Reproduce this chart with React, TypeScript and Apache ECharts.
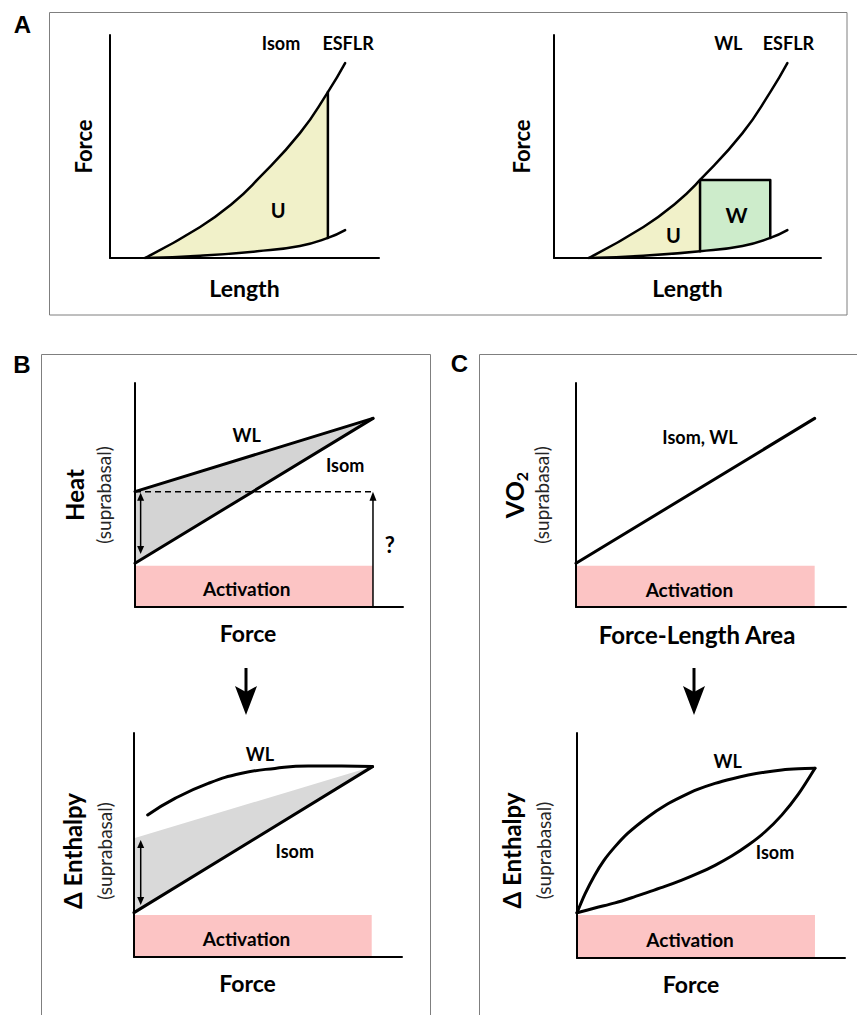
import React, { useEffect, useRef } from "react";
import * as echarts from "echarts";

const FONT = 'Lato, "Open Sans", "Noto Sans", sans-serif';

// ---------- Panel A : force-length relations (normalised units 0-100) ----------
const esflrLength = [13, 33.5, 45.7, 54.7, 70.6, 81, 87.4];
const esflrForce = [0, 13.9, 24.7, 35, 56, 74.4, 87.4];
const passiveLength = [13, 33.5, 54.7, 70.6, 81, 87.4];
const passiveForce = [0, 1, 3, 5.4, 9, 12.5];
const isomLength = 81; // isometric contraction length (A left)
const wlShortenStart = 81; // work-loop: start of shortening (A right)
const wlShortenEnd = 54.7; // work-loop: end of shortening
const wlAfterload = 35; // work-loop afterload force

// ---------- Panel B top : heat vs force ----------
const heatActivation = 18.4;
const heatForceMax = 88.8;
const heatIsom = [19.5, 84.2]; // heat at force 0 and at max force
const heatWL = [51.5, 84.2];

// ---------- Panel B bottom : enthalpy vs force ----------
const enthActivation = 18.75;
const enthForceMax = 89;
const enthIsom = [19.8, 85];
const enthUpper = [53, 85];
const enthWLForce = [5.1, 15.3, 27.7, 40.2, 52.6, 65, 77.5, 89];
const enthWLValue = [63.4, 70.8, 77.5, 82, 84.2, 85.3, 85.3, 85];

// ---------- Panel C top : VO2 vs FLA ----------
const vo2Activation = 18.4;
const vo2FlaMax = 88.4;
const vo2Line = [19.5, 84.2];

// ---------- Panel C bottom : enthalpy vs force ----------
const cActivation = 19.1;
const cForceMax = 88.8;
const cWLForce = [0, 3, 6.5, 10, 14.2, 19, 26.6, 33, 39.1, 45, 51.5, 58, 63.9, 70, 76.4, 82.6, 88.8];
const cWLValue = [20.1, 28.5, 36.6, 43.3, 49.5, 55.5, 62.8, 67.9, 71.7, 74.9, 77.6, 79.7, 81.3, 82.6, 83.6, 84.1, 84.3];
const cIsomForce = [0, 7, 14.2, 20.4, 26.6, 32.8, 39.1, 45.3, 51.5, 57.7, 63.9, 70.1, 76.4, 82.6, 88.8];
const cIsomValue = [20.1, 22.3, 24.5, 26.8, 29.3, 31.8, 34.6, 37.7, 41.2, 45.3, 50.2, 56, 63.5, 72.8, 84.3];

const zip = (xs: number[], ys: number[]) => xs.map((x, i) => [x, ys[i]]);

const YELLOW = "#f1f1c9";
const GREEN = "#cdeccb";
const PINK = "#fcc4c4";

function polygon(gi: number, pts: number[][], fill: string, z = 1) {
  return {
    type: "custom",
    xAxisIndex: gi,
    yAxisIndex: gi,
    silent: true,
    z,
    data: [[0, 0]],
    renderItem: (_p: any, api: any) => ({
      type: "polygon",
      shape: { points: pts.map((p) => api.coord(p)) },
      style: { fill, stroke: "none" },
    }),
  };
}

function curve(gi: number, pts: number[][], width = 2.5, smooth: any = true, extra: any = {}) {
  return {
    type: "line",
    xAxisIndex: gi,
    yAxisIndex: gi,
    data: pts,
    smooth,
    symbol: "none",
    silent: true,
    z: 3,
    lineStyle: { color: "#000", width, cap: "round", join: "round" },
    ...extra,
  };
}

function arrow(gi: number, from: number[], to: number[], both: boolean, headLen = 9, headW = 7, lw = 1.5) {
  return {
    type: "custom",
    xAxisIndex: gi,
    yAxisIndex: gi,
    silent: true,
    z: 5,
    data: [[0, 0]],
    renderItem: (_p: any, api: any) => {
      const a = api.coord(from);
      const b = api.coord(to);
      const dx = b[0] - a[0];
      const dy = b[1] - a[1];
      const L = Math.hypot(dx, dy);
      const ux = dx / L;
      const uy = dy / L;
      const nx = -uy;
      const ny = ux;
      const head = (t: number[], dx2: number, dy2: number) => ({
        type: "polygon",
        shape: {
          points: [
            t,
            [t[0] - dx2 * headLen + (nx * headW) / 2, t[1] - dy2 * headLen + (ny * headW) / 2],
            [t[0] - dx2 * headLen - (nx * headW) / 2, t[1] - dy2 * headLen - (ny * headW) / 2],
          ],
        },
        style: { fill: "#000" },
      });
      const s = both ? headLen / 2 : 0;
      const children: any[] = [
        {
          type: "line",
          shape: {
            x1: a[0] + ux * s,
            y1: a[1] + uy * s,
            x2: b[0] - (ux * headLen) / 2,
            y2: b[1] - (uy * headLen) / 2,
          },
          style: { stroke: "#000", lineWidth: lw },
        },
        head(b, ux, uy),
      ];
      if (both) children.push(head(a, -ux, -uy));
      return { type: "group", children };
    },
  };
}

// annotation texts placed in data coordinates of a grid
function labels(gi: number, items: { name: string; value: number[]; fs?: number }[]) {
  return {
    type: "custom",
    xAxisIndex: gi,
    yAxisIndex: gi,
    silent: true,
    z: 6,
    data: [[0, 0]],
    renderItem: (_p: any, api: any) => ({
      type: "group",
      children: items.map((it) => {
        const c = api.coord(it.value);
        return {
          type: "text",
          style: {
            text: it.name,
            x: c[0],
            y: c[1],
            fill: "#000",
            fontFamily: FONT,
            fontWeight: "bold",
            fontSize: it.fs ?? 18,
            align: "center",
            verticalAlign: "middle",
          },
        };
      }),
    }),
  };
}

const GRIDS = [
  { left: 110, top: 35, width: 269, height: 223 },
  { left: 554, top: 35, width: 267, height: 223 },
  { left: 135, top: 383, width: 268, height: 224 },
  { left: 134, top: 733, width: 268, height: 224 },
  { left: 576, top: 383, width: 270, height: 224 },
  { left: 577, top: 733, width: 268, height: 225 },
];

const axisCommon = {
  type: "value",
  min: 0,
  max: 100,
  z: 10,
  axisLine: { show: true, onZero: false, lineStyle: { color: "#000", width: 2 } },
  axisTick: { show: false },
  axisLabel: { show: false },
  splitLine: { show: false },
  nameLocation: "middle",
};

function xAx(gi: number, name: string, gap: number, fs: number, padRight = 0) {
  return {
    ...axisCommon,
    gridIndex: gi,
    name,
    nameGap: gap,
    nameTextStyle: {
      color: "#000",
      fontFamily: FONT,
      fontWeight: "bold",
      fontSize: fs,
      lineHeight: 24,
      padding: [0, padRight, 0, 0],
    },
  };
}

function yAx(gi: number, name: string, gap: number, rich?: any, padRight = 0) {
  return {
    ...axisCommon,
    gridIndex: gi,
    name,
    nameGap: gap,
    nameTextStyle: {
      color: "#000",
      fontFamily: FONT,
      fontWeight: "bold",
      fontSize: 22,
      lineHeight: 22,
      padding: [0, padRight, 0, 0],
      rich,
    },
  };
}

const subStyle = { fontFamily: FONT, fontSize: 19, lineHeight: 20, color: "#262626", fontWeight: "normal" };
const head = (lh: number, fs = 24) => ({ fontFamily: FONT, fontSize: fs, lineHeight: lh, color: "#000", fontWeight: "bold" });

export default function App() {
  const ref = useRef<HTMLDivElement>(null);
  useEffect(() => {
    if (!ref.current) return;
    const chart = echarts.init(ref.current, null, { renderer: "svg" });

    const upper = zip(esflrLength, esflrForce);
    const lower = zip(passiveLength, passiveForce);

    // A left yellow region
    const a1Fill = [
      ...upper.filter((p) => p[0] <= isomLength),
      ...lower.filter((p) => p[0] <= isomLength).reverse(),
    ];
    const isomTop = upper.find((p) => p[0] === isomLength)!;
    const isomBot = lower.find((p) => p[0] === isomLength)!;

    // A right regions
    const a2Yellow = [
      ...upper.filter((p) => p[0] <= wlShortenEnd),
      ...lower.filter((p) => p[0] <= wlShortenEnd).reverse(),
    ];
    const a2Green = [
      [wlShortenEnd, wlAfterload],
      [wlShortenStart, wlAfterload],
      ...lower.filter((p) => p[0] >= wlShortenEnd && p[0] <= wlShortenStart).reverse(),
    ];
    const wlBot = lower.find((p) => p[0] === wlShortenEnd)!;
    const wlStartBot = lower.find((p) => p[0] === wlShortenStart)!;

    const rect = (xmax: number, ymax: number) => [
      [0, 0],
      [xmax, 0],
      [xmax, ymax],
      [0, ymax],
    ];

    const series: any[] = [
      // ---- A left
      polygon(0, a1Fill, YELLOW),
      curve(0, upper),
      curve(0, lower),
      curve(0, [isomTop, isomBot], 2.5, false),
      labels(0, [
        { name: "Isom", value: [63.6, 96.4] },
        { name: "ESFLR", value: [88.5, 96.4] },
        { name: "U", value: [62.5, 21.5], fs: 20 },
      ]),
      // ---- A right
      polygon(1, a2Yellow, YELLOW),
      polygon(1, a2Green, GREEN),
      curve(1, upper),
      curve(1, lower),
      curve(1, [[wlShortenEnd, wlAfterload], wlBot], 2.5, false),
      curve(1, [[wlShortenEnd, wlAfterload], [wlShortenStart, wlAfterload], wlStartBot], 2.5, false),
      labels(1, [
        { name: "WL", value: [65.3, 96.3] },
        { name: "ESFLR", value: [87.8, 96.3] },
        { name: "U", value: [44.7, 10.3], fs: 20 },
        { name: "W", value: [68.4, 19.3], fs: 21 },
      ]),
      // ---- B top
      polygon(2, rect(heatForceMax, heatActivation), PINK),
      polygon(2, [[0, heatWL[0]], [heatForceMax, heatWL[1]], [0, heatIsom[0]]], "#d4d4d4"),
      curve(2, [[0, heatIsom[0]], [heatForceMax, heatIsom[1]]], 3, false),
      curve(2, [[0, heatWL[0]], [heatForceMax, heatWL[1]]], 3, false),
      curve(2, [[0, heatWL[0]], [heatForceMax, heatWL[0]]], 1.5, false, {
        lineStyle: { color: "#000", width: 1.5, type: [6, 4] },
      }),
      arrow(2, [heatForceMax, 0], [heatForceMax, heatWL[0]], false, 9, 7, 1.5),
      arrow(2, [2.1, heatWL[0] - 0.5], [2.1, heatIsom[0] + 4.2], true, 8, 7, 1.5),
      labels(2, [
        { name: "WL", value: [41.7, 76.8] },
        { name: "Isom", value: [78.4, 63.4] },
        { name: "?", value: [95.1, 27.7], fs: 22 },
        { name: "Activation", value: [41.7, 8.3], fs: 19 },
      ]),
      // ---- B bottom
      polygon(3, rect(88.7, enthActivation), PINK),
      polygon(3, [[0, enthUpper[0]], [enthForceMax, enthUpper[1]], [0, enthIsom[0]]], "#d9d9d9"),
      curve(3, [[0, enthIsom[0]], [enthForceMax, enthIsom[1]]], 3, false),
      curve(3, zip(enthWLForce, enthWLValue), 3),
      arrow(3, [2.5, enthUpper[0] - 0.8], [2.5, enthIsom[0] + 3.4], true, 8, 7, 1.5),
      labels(3, [
        { name: "WL", value: [47, 90.6] },
        { name: "Isom", value: [60, 47.5] },
        { name: "Activation", value: [42, 8.3], fs: 19 },
      ]),
      // ---- C top
      polygon(4, rect(vo2FlaMax, vo2Activation), PINK),
      curve(4, [[0, vo2Line[0]], [vo2FlaMax, vo2Line[1]]], 3, false),
      labels(4, [
        { name: "Isom, WL", value: [45.9, 76] },
        { name: "Activation", value: [42, 7.9], fs: 19 },
      ]),
      // ---- C bottom
      polygon(5, rect(cForceMax, cActivation), PINK),
      curve(5, zip(cWLForce, cWLValue), 3, 0.3),
      curve(5, zip(cIsomForce, cIsomValue), 3, 0.3),
      labels(5, [
        { name: "WL", value: [56.2, 87.6] },
        { name: "Isom", value: [73.9, 47] },
        { name: "Activation", value: [42.2, 8.3], fs: 19 },
      ]),
    ];

    const letter = (t: string, x: number, y: number) => ({
      type: "text",
      z: 20,
      style: {
        text: t,
        x,
        y,
        fill: "#000",
        fontFamily: '"Liberation Sans", Arial, sans-serif',
        fontWeight: "bold",
        fontSize: 24,
        align: "center",
        verticalAlign: "middle",
      },
    });
    const box = (x: number, y: number, w: number, h: number) => ({
      type: "rect",
      z: 20,
      shape: { x, y, width: w, height: h },
      style: { fill: "none", stroke: "#7f7f7f", lineWidth: 1 },
    });
    const downArrow = (x: number) => ({
      type: "group",
      z: 20,
      children: [
        { type: "line", shape: { x1: x, y1: 668, x2: x, y2: 694 }, style: { stroke: "#000", lineWidth: 3 } },
        {
          type: "polygon",
          shape: { points: [[x - 11, 686], [x, 692], [x + 11, 686], [x, 715]] },
          style: { fill: "#000" },
        },
      ],
    });

    chart.setOption({
      animation: false,
      backgroundColor: "#fff",
      grid: GRIDS,
      xAxis: [
        xAx(0, "Length", 18, 23),
        xAx(1, "Length", 18, 23),
        xAx(2, "Force", 14, 23, 42),
        xAx(3, "Force", 14, 23, 41),
        xAx(4, "Force-Length Area", 15, 24, 28),
        xAx(5, "Force", 14, 23, 40),
      ],
      yAxis: [
        yAx(0, "Force", 16),
        yAx(1, "Force", 22),
        yAx(2, "{h|Heat}\n{s|(suprabasal)}", 22, { h: head(37), s: subStyle }),
        yAx(3, "{h|Δ Enthalpy}\n{s|(suprabasal)}", 20, { h: head(44), s: subStyle }, 12),
        yAx(
          4,
          "{h|VO}{sub|2}\n{s|(suprabasal)}",
          25,
          {
            h: head(34, 25),
            sub: { fontFamily: FONT, fontSize: 16, lineHeight: 16, padding: [14, 0, 0, 0], fontWeight: "bold", color: "#000" },
            s: subStyle,
          }
        ),
        yAx(5, "{h|Δ Enthalpy}\n{s|(suprabasal)}", 24, { h: head(44), s: subStyle }, 10),
      ],
      series,
      graphic: [
        box(49.5, 12.5, 797.5, 302.5),
        box(41.5, 354.5, 389, 700),
        box(479.5, 354.5, 400, 700),
        letter("A", 22.5, 24),
        letter("B", 22, 364.5),
        letter("C", 459.5, 363.5),
        downArrow(246),
        downArrow(694),
      ],
    });
    return () => chart.dispose();
  }, []);
  return <div ref={ref} style={{ position: "fixed", left: 0, top: 0, width: 857, height: 1015 }} />;
}
